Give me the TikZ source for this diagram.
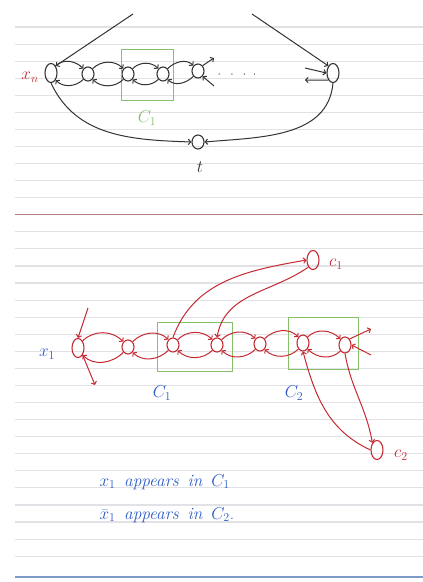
\documentclass[tikz,border=0pt]{standalone}
\usepackage{tikz}
\usetikzlibrary{arrows.meta,positioning,shapes.geometric}
\definecolor{ink}{HTML}{333333}
\definecolor{redink}{HTML}{C42A32}
\definecolor{greenink}{HTML}{86C06A}
\definecolor{blueink}{HTML}{2E5CC4}
\definecolor{ruling}{HTML}{E1E1E6}
\definecolor{redrule}{HTML}{B77C7C}
\definecolor{bluerule}{HTML}{7E9ACB}

\begin{document}
\begin{tikzpicture}[x=1pt,y=1pt,
  vtx/.style={ellipse,draw,line width=1.1pt,minimum width=12pt,
              minimum height=19pt,inner sep=0pt},
  sml/.style={ellipse,draw,line width=1.1pt,minimum width=12pt,
              minimum height=14pt,inner sep=0pt},
  arr/.style={-{Straight Barb[length=2.5pt,width=5.5pt]},line width=1pt},
  box/.style={draw=greenink,line width=1pt},
  lbl/.style={font=\LARGE}
]
\useasboundingbox (0,0) rectangle (423,582);
\foreach \i [evaluate=\i as \yy using 555-17.07*\i] in {0,...,10,12,13,...,31}
  \draw[ruling,line width=1.1pt] (15,\yy) -- (423,\yy);
\draw[redrule,line width=1.2pt] (15,367.2) -- (423,367.2);
\draw[bluerule,line width=1.4pt] (15,5) -- (423,5);

\begin{scope}[ink]
\node[vtx] (xn) at (51,509) {};
\node[sml] (a2) at (88,508) {};
\node[sml] (a3) at (128,508) {};
\node[sml] (a4) at (163,508) {};
\node[sml] (a5) at (198,511) {};
\node[vtx] (xr) at (333,509) {};
\node[sml] (t) at (198,440) {};
\node[font=\large] (dots) at (237,507) {$\cdot\;\;\cdot\;\;\cdot\;\;\cdot$};
\node[lbl,redink] (xnlbl) at (30,505) {$x_n$};
\node[lbl] (tlbl) at (200,415) {$t$};
\coordinate (tl) at (133,568);
\coordinate (tr) at (252,568);
\coordinate (a5o) at (214,524);
\coordinate (a5i) at (214,496);
\coordinate (xri) at (305,514);
\coordinate (xro) at (305,502);

\draw[box] (121,532) rectangle (173,481);
\node[lbl,greenink] (c1top) at (147,464) {$C_1$};

\draw[arr] (tl) -- (xn.north east);
\draw[arr] (tr) -- (xr.north west);
\foreach \a/\b in {xn/a2,a2/a3,a3/a4,a4/a5}{
  \draw[arr] (\a.north east) to[out=45,in=135] (\b.north west);
  \draw[arr] (\b.south west) to[out=-135,in=-45] (\a.south east);
}
\draw[arr] (a5.north east) -- (a5o);
\draw[arr] (a5i) -- (a5.south east);
\draw[arr] (xri) -- (xr.west);
\draw[arr] (xr.south west) -- (xro);
\draw[arr] (xn.south) to[out=-65,in=178] (t.west);
\draw[arr] (xr.south) to[out=-95,in=5] (t.east);
\end{scope}

\begin{scope}[redink]
\node[vtx] (x1) at (78,234) {};
\node[sml] (b2) at (128,235) {};
\node[sml] (b3) at (173,237) {};
\node[sml] (b4) at (217,237) {};
\node[sml] (b5) at (260,238) {};
\node[vtx,minimum height=16pt] (b6) at (303,239) {};
\node[vtx,minimum height=16pt] (b7) at (345,237) {};
\node[vtx] (c1) at (313,322) {};
\node[vtx] (c2) at (377,132) {};
\node[lbl] (c1lbl) at (336,318) {$c_1$};
\node[lbl] (c2lbl) at (401,127) {$c_2$};
\coordinate (x1i) at (88,274);
\coordinate (x1o) at (95,197);
\coordinate (b7o) at (371,253);
\coordinate (b7i) at (371,227);

\draw[box] (157,259) rectangle (232,210);
\draw[box] (288,264) rectangle (358,212);

\draw[arr] (x1i) -- (x1.north);
\draw[arr] (x1.south east) -- (x1o);
\foreach \a/\b in {x1/b2,b2/b3,b3/b4,b4/b5,b5/b6,b6/b7}{
  \draw[arr] (\a.north east) to[out=45,in=135] (\b.north west);
  \draw[arr] (\b.south west) to[out=-135,in=-45] (\a.south east);
}
\draw[arr] (b7.north east) -- (b7o);
\draw[arr] (b7i) -- (b7.east);
\draw[arr] (b3.north) to[out=70,in=190] (c1.west);
\draw[arr] (c1.south west) to[out=215,in=80] (b4.north);
\draw[arr] (b7.south) to[out=-80,in=100] (c2.north west);
\draw[arr] (c2.west) to[out=155,in=-75] (b6.south);
\end{scope}

\begin{scope}[blueink]
\node[lbl] (x1lbl) at (47,228) {$x_1$};
\node[lbl] (c1bot) at (162,189) {$C_1$};
\node[lbl] (c2bot) at (294,189) {$C_2$};
\node[lbl,anchor=west] (line1) at (96,100)
  {$x_1$\enspace\textit{appears}\enspace\textit{in}\enspace$C_1$};
\node[lbl,anchor=west] (line2) at (96,67)
  {$\bar{x}_1$\enspace\textit{appears}\enspace\textit{in}\enspace$C_2$.};
\end{scope}
\end{tikzpicture}
\end{document}
